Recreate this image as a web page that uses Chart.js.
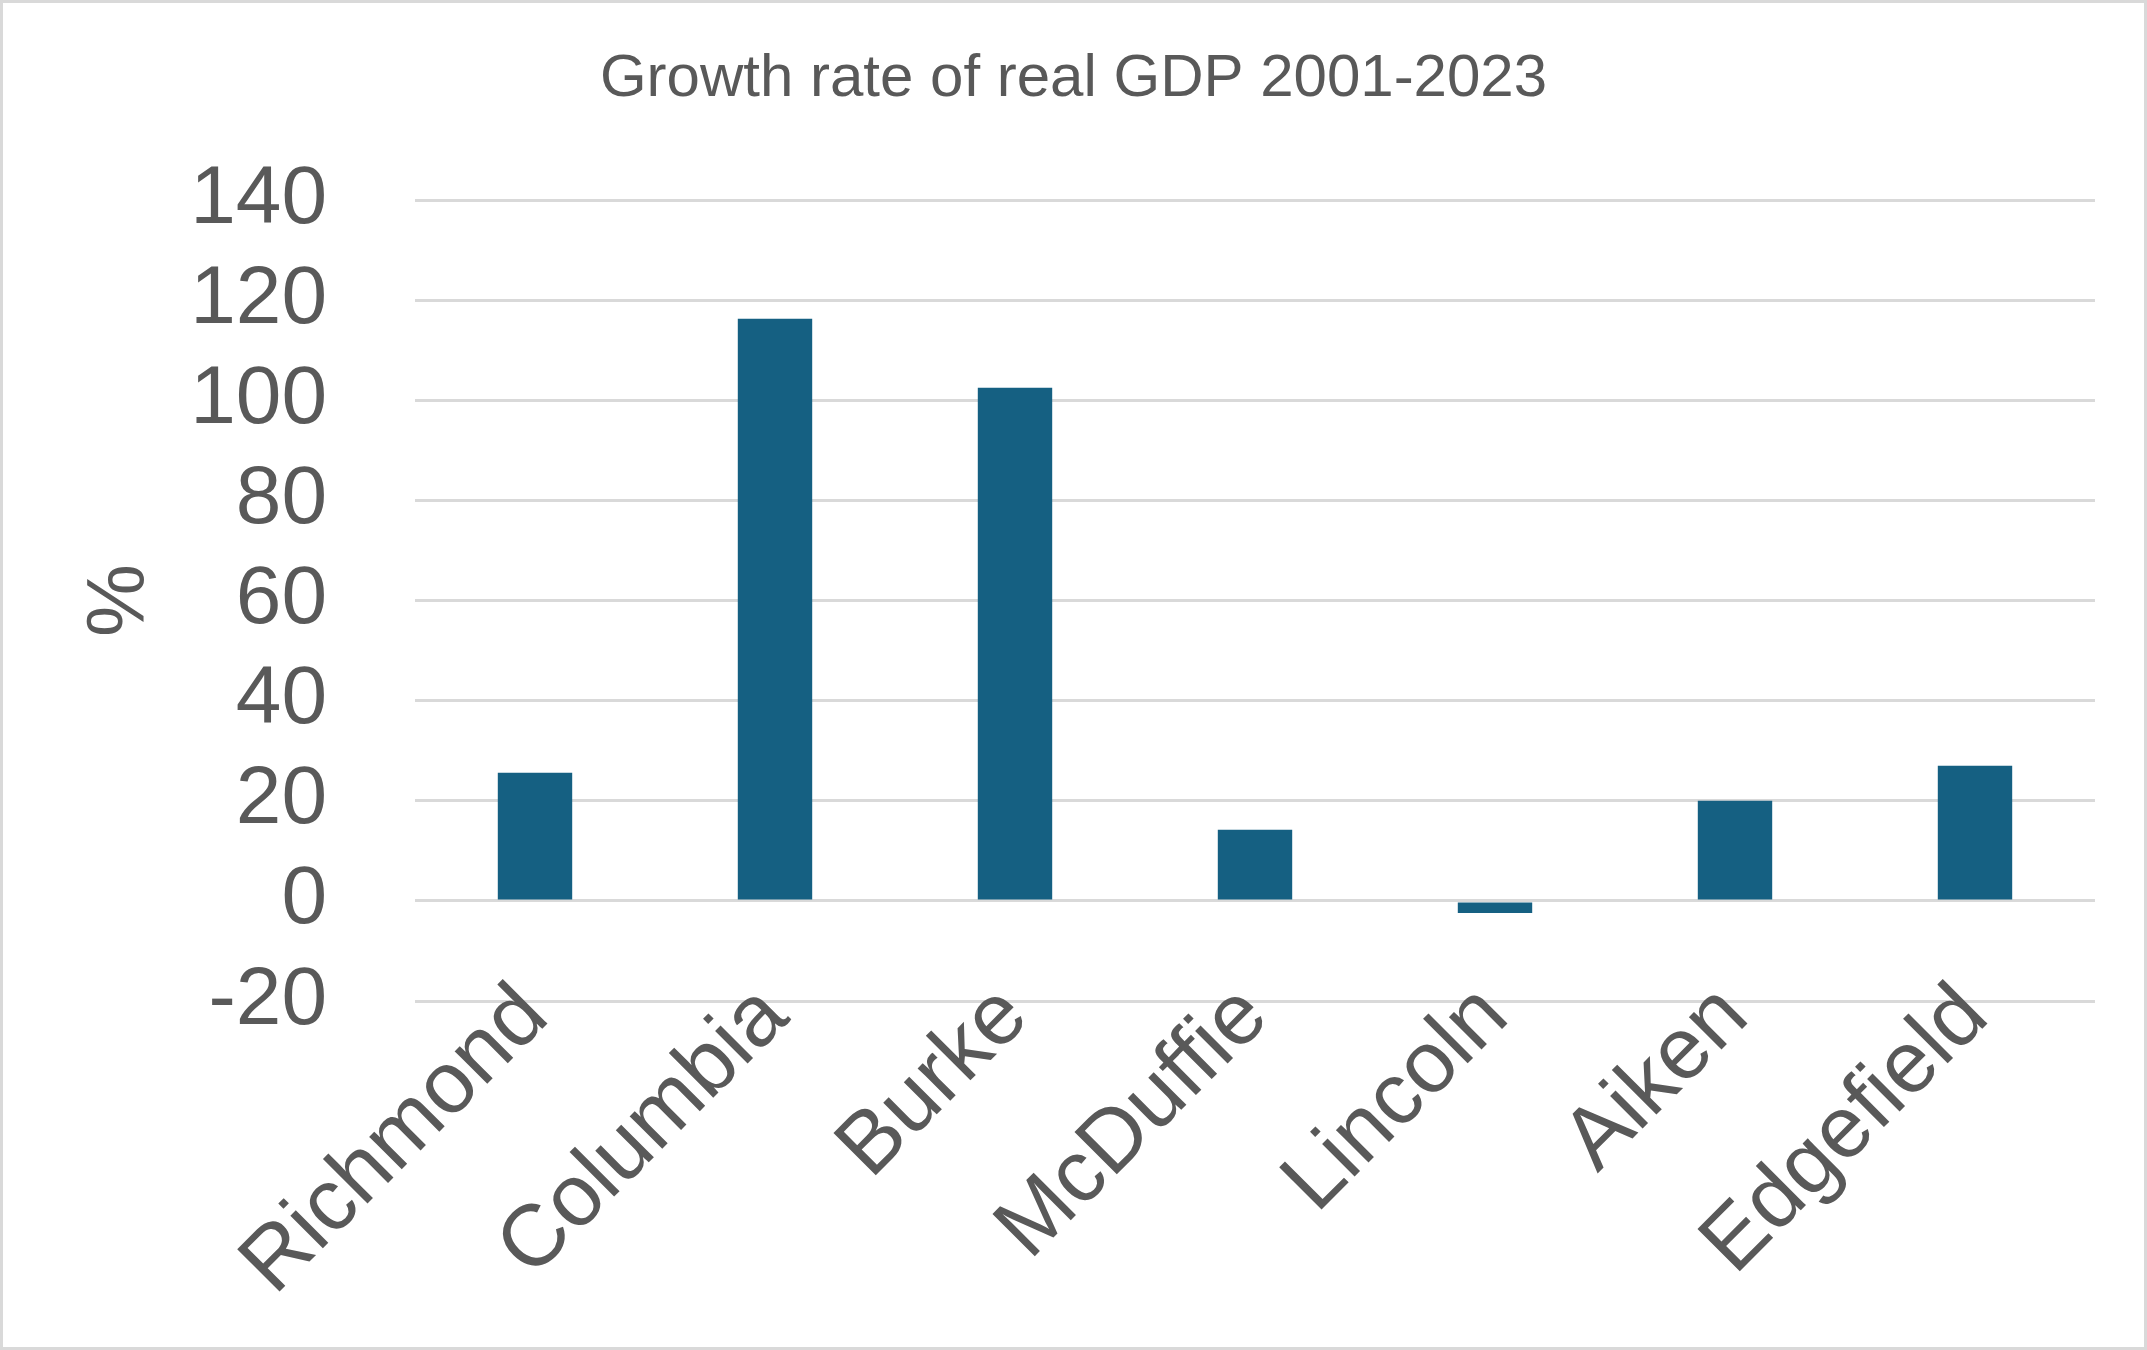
<!DOCTYPE html>
<html>
<head>
<meta charset="utf-8">
<script src="https://cdn.jsdelivr.net/npm/chart.js@4.4.1/dist/chart.umd.min.js"></script>
<style>
  html, body { margin: 0; padding: 0; background: #fff; }
  #wrap { width: 2147px; height: 1350px; position: relative; }
  canvas { outline: 3px solid #d9d9d9; outline-offset: -3px; }
</style>
</head>
<body>
<div id="wrap"><canvas id="gdpChart" width="2147" height="1350"></canvas></div>
<script>
const counties = ['Richmond', 'Columbia', 'Burke', 'McDuffie', 'Lincoln', 'Aiken', 'Edgefield'];
const growthPct = [25.6, 116.3, 102.5, 14.2, -2.4, 20.0, 27.0];
const yTicks = [-20, 0, 20, 40, 60, 80, 100, 120, 140];

const textColor = '#595959';
const gridColor = '#d9d9d9';
const fontFamily = '"Liberation Sans", Arial, sans-serif';

const ctx = document.getElementById('gdpChart').getContext('2d');
const gdpChart = new Chart(ctx, {
  type: 'bar',
  data: {
    labels: counties,
    datasets: [{
      label: 'Growth rate',
      data: growthPct,
      backgroundColor: '#156082',
      borderWidth: 0,
      barPercentage: 0.31,
      categoryPercentage: 1
    }]
  },
  options: {
    responsive: false,
    animation: false,
    devicePixelRatio: 1,
    // equal side padding keeps the title centred on the canvas
    layout: { padding: { left: 52, right: 52, top: 0, bottom: 0 } },
    plugins: {
      legend: { display: false },
      tooltip: { enabled: false },
      title: {
        display: true,
        text: 'Growth rate of real GDP 2001-2023',
        color: textColor,
        font: { family: fontFamily, size: 60, weight: 'normal' },
        padding: { top: 43, bottom: 85 }
      }
    },
    scales: {
      x: {
        grid: { display: false },
        border: { display: false },
        ticks: {
          color: textColor,
          // tiny lineHeight + mirror: label end sits on the tick, not clipped by the axis box
          font: { family: fontFamily, size: 87, lineHeight: 0.01 },
          minRotation: 45,
          maxRotation: 45,
          autoSkip: false,
          mirror: true,
          padding: -2
        },
        afterFit: function(scale) { scale.height = 349; }
      },
      y: {
        min: -20,
        max: 140,
        afterBuildTicks: function(scale) {
          scale.ticks = yTicks.map(v => ({ value: v }));
        },
        grid: { color: gridColor, lineWidth: 3, drawTicks: false, tickLength: 0 },
        border: { display: false },
        ticks: {
          color: textColor,
          font: { family: fontFamily, size: 82 },
          autoSkip: false,
          padding: 88
        },
        title: {
          display: true,
          text: '%',
          color: textColor,
          font: { family: fontFamily, size: 82 },
          padding: { top: 20, bottom: 0 }
        },
        afterFit: function(scale) { scale.width = 363; }
      }
    }
  }
});
</script>
</body>
</html>
